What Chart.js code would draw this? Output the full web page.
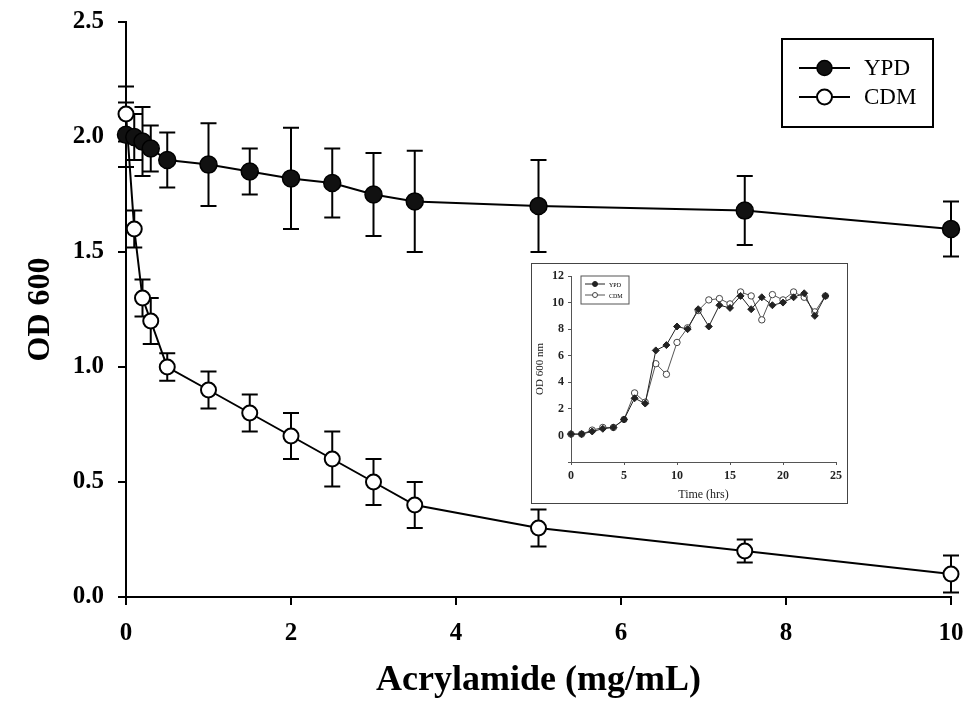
<!DOCTYPE html>
<html>
<head>
<meta charset="utf-8">
<script src="https://cdn.jsdelivr.net/npm/chart.js@4"></script>
<style>
  html, body { margin: 0; padding: 0; background: #fff; }
  #wrap { position: relative; width: 969px; height: 702px; }
  #inset { position: absolute; left: 531px; top: 263px; width: 317px; height: 241px;
           border: 1.5px solid #444; background: #fff; box-sizing: border-box; }
</style>
</head>
<body>
<div id="wrap">
  <canvas id="main" width="969" height="702"></canvas>
  <div id="inset"><canvas id="small" width="314" height="238"></canvas></div>
</div>
<script>
// main plot: OD 600 vs acrylamide
const conc = [0, 0.1, 0.2, 0.3, 0.5, 1, 1.5, 2, 2.5, 3, 3.5, 5, 7.5, 10];
const ypd = [2.01, 2.0, 1.98, 1.95, 1.90, 1.88, 1.85, 1.82, 1.80, 1.75, 1.72, 1.70, 1.68, 1.60];
const ypdErr = [0.14, 0.10, 0.15, 0.10, 0.12, 0.18, 0.10, 0.22, 0.15, 0.18, 0.22, 0.20, 0.15, 0.12];
const cdm = [2.1, 1.6, 1.3, 1.2, 1.0, 0.9, 0.8, 0.7, 0.6, 0.5, 0.4, 0.3, 0.2, 0.1];
const cdmErr = [0.12, 0.08, 0.08, 0.10, 0.06, 0.08, 0.08, 0.10, 0.12, 0.10, 0.10, 0.08, 0.05, 0.08];

// inset: growth curve
const hours = [0, 1, 2, 3, 4, 5, 6, 7, 8, 9, 10, 11, 12, 13, 14, 15, 16, 17, 18, 19, 20, 21, 22, 23, 24];
const ypdGrowth = [0.1, 0.1, 0.3, 0.5, 0.6, 1.2, 2.8, 2.4, 6.4, 6.8, 8.2, 8.0, 9.5, 8.2, 9.8, 9.6, 10.5, 9.5, 10.4, 9.8, 10.0, 10.4, 10.7, 9.0, 10.5];
const cdmGrowth = [0.1, 0.1, 0.4, 0.6, 0.6, 1.2, 3.2, 2.5, 5.4, 4.6, 7.0, 8.1, 9.4, 10.2, 10.3, 9.9, 10.8, 10.5, 8.7, 10.6, 10.2, 10.8, 10.4, 9.3, 10.5];

const serif = "'Liberation Serif', 'Times New Roman', serif";

function pts(xs, ys) {
  return xs.map((x, i) => ({ x: x, y: ys[i] }));
}

// error bars, drawn under the markers
const errorBars = {
  id: 'errorBars',
  beforeDatasetsDraw(chart, args, opts) {
    if (!opts.errs) return;
    const ctx = chart.ctx;
    const xs = chart.scales.x, ys = chart.scales.y;
    ctx.save();
    ctx.strokeStyle = '#000';
    ctx.lineWidth = opts.width || 2;
    chart.data.datasets.forEach((ds, di) => {
      const e = opts.errs[di];
      if (!e) return;
      ds.data.forEach((p, i) => {
        const px = xs.getPixelForValue(p.x);
        const top = ys.getPixelForValue(p.y + e[i]);
        const bot = ys.getPixelForValue(p.y - e[i]);
        const c = opts.cap;
        ctx.beginPath();
        ctx.moveTo(px, top); ctx.lineTo(px, bot);
        ctx.moveTo(px - c, top); ctx.lineTo(px + c, top);
        ctx.moveTo(px - c, bot); ctx.lineTo(px + c, bot);
        ctx.stroke();
      });
    });
    ctx.restore();
  }
};

// boxed legend with line + marker samples
const boxLegend = {
  id: 'boxLegend',
  afterDraw(chart, args, o) {
    if (!o.box) return;
    const ctx = chart.ctx;
    const [bx, by, bw, bh] = o.box;
    ctx.save();
    ctx.strokeStyle = o.border || '#000';
    ctx.lineWidth = o.borderWidth || 2;
    ctx.strokeRect(bx, by, bw, bh);
    ctx.font = o.font;
    ctx.fillStyle = '#000';
    ctx.textBaseline = 'middle';
    chart.data.datasets.forEach((ds, i) => {
      const y = by + o.rowTop + i * o.rowGap;
      const x0 = bx + o.lineStart;
      ctx.strokeStyle = ds.borderColor;
      ctx.lineWidth = ds.borderWidth;
      ctx.beginPath();
      ctx.moveTo(x0, y); ctx.lineTo(x0 + o.lineLen, y);
      ctx.stroke();
      ctx.beginPath();
      ctx.arc(x0 + o.lineLen / 2, y, o.radius, 0, Math.PI * 2);
      ctx.fillStyle = ds.pointBackgroundColor;
      ctx.fill();
      ctx.lineWidth = ds.pointBorderWidth;
      ctx.strokeStyle = ds.pointBorderColor;
      ctx.stroke();
      ctx.fillStyle = '#000';
      ctx.fillText(ds.label, x0 + o.lineLen + o.textGap, y + 1);
    });
    ctx.restore();
  }
};

new Chart(document.getElementById('main'), {
  type: 'line',
  data: {
    datasets: [
      {
        label: 'YPD', data: pts(conc, ypd),
        borderColor: '#000', borderWidth: 2,
        pointRadius: 8.5, pointBackgroundColor: '#111', pointBorderColor: '#000', pointBorderWidth: 1.5,
        clip: false
      },
      {
        label: 'CDM', data: pts(conc, cdm),
        borderColor: '#000', borderWidth: 2,
        pointRadius: 7.5, pointBackgroundColor: '#fff', pointBorderColor: '#000', pointBorderWidth: 2,
        clip: false
      }
    ]
  },
  options: {
    responsive: false,
    animation: false,
    layout: { padding: { left: 0, top: 22, right: 18, bottom: 0 } },
    plugins: {
      legend: { display: false },
      tooltip: { enabled: false },
      errorBars: { errs: [ypdErr, cdmErr], cap: 8, width: 2 },
      boxLegend: {
        box: [782, 39, 151, 88], rowTop: 29, rowGap: 29, lineStart: 17, lineLen: 51,
        textGap: 14, radius: 7.5, font: "23px " + serif
      }
    },
    scales: {
      x: {
        type: 'linear', min: 0, max: 10,
        ticks: { stepSize: 2, color: '#000', padding: 14, font: { family: serif, size: 25, weight: 'bold' } },
        grid: { drawOnChartArea: false, tickLength: 8, color: '#000', lineWidth: 2 },
        border: { color: '#000', width: 2 },
        title: { display: true, text: 'Acrylamide (mg/mL)', color: '#000',
                 font: { family: serif, size: 36, weight: 'bold' }, padding: { top: 0, bottom: 0 } },
        afterFit: s => { s.height = 105; s.paddingLeft = 0; s.paddingRight = 0; }
      },
      y: {
        min: 0, max: 2.5,
        ticks: { stepSize: 0.5, color: '#000', padding: 14, callback: v => v.toFixed(1),
                 font: { family: serif, size: 25, weight: 'bold' } },
        grid: { drawOnChartArea: false, tickLength: 8, color: '#000', lineWidth: 2 },
        border: { color: '#000', width: 2 },
        title: { display: true, text: 'OD 600', color: '#000',
                 font: { family: serif, size: 32, weight: 'bold' }, padding: { top: 22, bottom: 0 } },
        afterFit: s => { s.width = 126; s.paddingTop = 0; s.paddingBottom = 0; }
      }
    }
  },
  plugins: [errorBars, boxLegend]
});

// inset chart
new Chart(document.getElementById('small'), {
  type: 'line',
  data: {
    datasets: [
      {
        label: 'YPD', data: pts(hours, ypdGrowth),
        borderColor: '#222', borderWidth: 1,
        pointStyle: 'rectRot', pointRadius: 3.5, pointBackgroundColor: '#222', pointBorderColor: '#222', pointBorderWidth: 1,
        clip: false
      },
      {
        label: 'CDM', data: pts(hours, cdmGrowth),
        borderColor: '#555', borderWidth: 1,
        pointRadius: 3.2, pointBackgroundColor: '#fff', pointBorderColor: '#444', pointBorderWidth: 1,
        clip: false
      }
    ]
  },
  options: {
    responsive: false,
    animation: false,
    layout: { padding: { left: 0, top: 12, right: 10, bottom: 0 } },
    plugins: {
      legend: { display: false },
      tooltip: { enabled: false },
      boxLegend: {
        box: [49, 12, 48, 28], rowTop: 8, rowGap: 11, lineStart: 4, lineLen: 20,
        textGap: 4, radius: 2.5, font: "6px " + serif, border: '#555', borderWidth: 1
      }
    },
    scales: {
      x: {
        type: 'linear', min: 0, max: 25,
        ticks: { stepSize: 5, color: '#222', padding: 4, font: { family: serif, size: 12, weight: 'bold' } },
        grid: { drawOnChartArea: false, tickLength: 3, color: '#555', lineWidth: 1 },
        border: { color: '#555', width: 1 },
        title: { display: true, text: 'Time (hrs)', color: '#222',
                 font: { family: serif, size: 12 }, padding: { top: 0, bottom: 0 } },
        afterFit: s => { s.height = 40; }
      },
      y: {
        min: -2, max: 12,
        ticks: { stepSize: 2, color: '#222', padding: 4, callback: v => (v < 0 ? '' : v),
                 font: { family: serif, size: 12, weight: 'bold' } },
        grid: { drawOnChartArea: false, tickLength: 3, color: '#555', lineWidth: 1 },
        border: { color: '#555', width: 1 },
        title: { display: true, text: 'OD 600 nm', color: '#222',
                 font: { family: serif, size: 11 }, padding: { top: 2, bottom: 0 } },
        afterFit: s => { s.width = 39; }
      }
    }
  },
  plugins: [boxLegend]
});
</script>
</body>
</html>
